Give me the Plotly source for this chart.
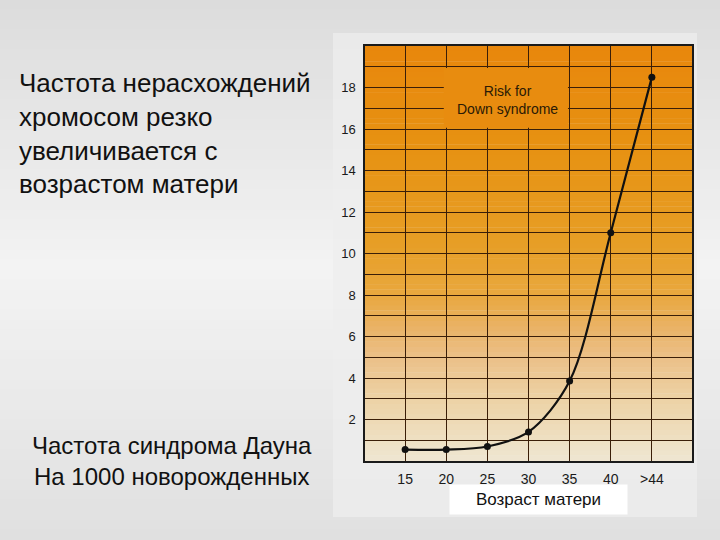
import plotly.graph_objects as go

# ---- data ----
ages = ["15", "20", "25", "30", "35", "40", ">44"]
risk_per_1000 = [0.55, 0.55, 0.7, 1.4, 3.85, 11.0, 18.5]
y_tick_vals = list(range(1, 20))
y_tick_text = [str(v) if v % 2 == 0 else "" for v in y_tick_vals]

left_title = "Частота нерасхождений<br>хромосом резко<br>увеличивается с<br>возрастом матери"
left_note = "Частота синдрома Дауна<br>На 1000 новорожденных"
box_label = "Risk for<br>Down syndrome"
x_title = "Возраст матери"

W, H = 720, 540
FONT = "Liberation Sans, Arial, sans-serif"


def lerp(c1, c2, t):
    return tuple(round(a + (b - a) * t) for a, b in zip(c1, c2))


def interp(stops, v):
    for (v0, c0), (v1, c1) in zip(stops, stops[1:]):
        if v0 <= v <= v1:
            t = 0 if v1 == v0 else (v - v0) / (v1 - v0)
            return lerp(c0, c1, t)
    return stops[-1][1]


shapes = []

# page background gradient (pixel rows from top)
page_stops = [(0, (220, 220, 220)), (270, (243, 243, 243)), (540, (224, 224, 224))]
n = 54
for i in range(n):
    y0 = i * H / n
    y1 = (i + 1) * H / n
    c = interp(page_stops, (y0 + y1) / 2)
    shapes.append(dict(type="rect", xref="paper", yref="paper", x0=0, x1=1,
                       y0=1 - y1 / H, y1=1 - y0 / H + 0.001, layer="below",
                       line=dict(width=0), fillcolor="rgb(%d,%d,%d)" % c))

# chart panel
shapes.append(dict(type="rect", xref="paper", yref="paper",
                   x0=333 / W, x1=697 / W, y0=1 - 517 / H, y1=1 - 33 / H, layer="below",
                   line=dict(width=0), fillcolor="rgba(238,238,238,0.75)"))

# orange gradient plot background (value-space stops)
orange_stops = [(0, (239, 230, 210)), (1, (238, 224, 195)), (3, (237, 210, 165)),
                (5, (235, 192, 136)), (6.5, (234, 178, 100)), (8, (233, 168, 62)),
                (10.5, (231, 158, 38)), (15, (231, 146, 18)), (20, (232, 135, 12))]
nb = 80
for i in range(nb):
    y0 = 20 * i / nb
    y1 = 20 * (i + 1) / nb
    c = interp(orange_stops, (y0 + y1) / 2)
    shapes.append(dict(type="rect", xref="x domain", yref="y", x0=0, x1=1,
                       y0=y0, y1=min(20, y1 + 0.02), layer="below",
                       line=dict(width=0), fillcolor="rgb(%d,%d,%d)" % c))

# "Risk for Down syndrome" label box covering the grid
box_c = interp(orange_stops, 17.5)
shapes.append(dict(type="rect", xref="x", yref="y", x0=0.94, x1=3.96, y0=16.06, y1=18.94,
                   layer="between", line=dict(width=0), fillcolor="rgb(%d,%d,%d)" % box_c))

fig = go.Figure()
fig.add_trace(go.Scatter(
    x=ages, y=risk_per_1000, mode="lines+markers",
    line=dict(color="#111111", width=2.2, shape="spline", smoothing=0.9),
    marker=dict(color="#111111", size=7),
    showlegend=False, hoverinfo="x+y",
))

fig.update_layout(
    width=W, height=H,
    margin=dict(l=0, r=0, t=0, b=0),
    paper_bgcolor="#e6e6e6",
    plot_bgcolor="rgba(0,0,0,0)",
    shapes=shapes,
    font=dict(family=FONT, color="#1a1a1a"),
    xaxis=dict(
        type="category", domain=[365 / W, 692 / W], range=[-0.976, 6.976],
        showgrid=True, gridcolor="#3a1e08", gridwidth=1,
        showline=True, linecolor="#1a1a1a", linewidth=1.5, mirror=True,
        ticks="outside", ticklen=4, tickcolor="rgba(0,0,0,0)",
        tickfont=dict(size=14, color="#1a1a1a", family=FONT), zeroline=False,
        fixedrange=True,
    ),
    yaxis=dict(
        domain=[1 - 461 / H, 1 - 46 / H], range=[0, 20],
        tickmode="array", tickvals=y_tick_vals, ticktext=y_tick_text,
        showgrid=True, gridcolor="#3a1e08", gridwidth=1,
        showline=True, linecolor="#1a1a1a", linewidth=1.5, mirror=True,
        ticks="outside", ticklen=5, tickcolor="rgba(0,0,0,0)",
        tickfont=dict(size=13, color="#1a1a1a", family=FONT), zeroline=False,
        fixedrange=True,
    ),
    annotations=[
        dict(text=left_title, xref="paper", yref="paper", x=17 / W, y=1 - 66 / H,
             xanchor="left", yanchor="top", align="left", showarrow=False,
             font=dict(size=26, color="#111111", family=FONT)),
        dict(text=left_note, xref="paper", yref="paper", x=172 / W, y=1 - 461 / H,
             xanchor="center", yanchor="middle", align="center", showarrow=False,
             font=dict(size=24, color="#111111", family=FONT)),
        dict(text=box_label, xref="x", yref="y", x=2.5, y=17.4,
             xanchor="center", yanchor="middle", align="center", showarrow=False,
             font=dict(size=14, color="#2a1a05", family=FONT)),
        dict(text=x_title, xref="paper", yref="paper", x=538 / W, y=1 - 499 / H,
             xanchor="center", yanchor="middle", showarrow=False,
             bgcolor="#ffffff", width=175, height=27,
             font=dict(size=17, color="#111111", family=FONT)),
    ],
)

fig.write_html("out.html", config={"displayModeBar": False},
               post_script="document.body.style.margin='0';document.body.style.background='#dcdcdc';")
